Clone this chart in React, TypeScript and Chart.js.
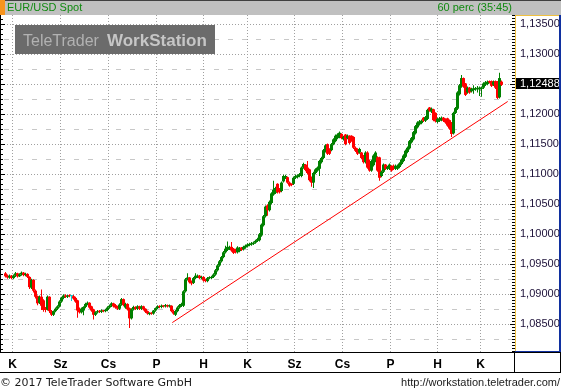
import { useEffect, useRef } from 'react';
import { Chart, registerables } from 'chart.js';

Chart.register(...registerables);

// ---------- texts ----------
const symbolLabel = 'EUR/USD Spot';
const intervalLabel = '60 perc (35:45)';
const watermarkA = 'TeleTrader';
const watermarkB = 'WorkStation';
const copyrightLabel = '© 2017 TeleTrader Software GmbH';
const urlLabel = 'http://workstation.teletrader.com/';
const lastPriceLabel = '1,12488';

// ---------- axes ----------
const dayLabels = ['K', 'Sz', 'Cs', 'P', 'H', 'K', 'Sz', 'Cs', 'P', 'H', 'K'];
const dayStarts = [3.5, 27.5, 51.5, 75.5, 99, 121, 144.5, 168.5, 192.5, 216, 237.5];
const yTicks = [1.085, 1.09, 1.095, 1.1, 1.105, 1.11, 1.115, 1.12, 1.125, 1.13, 1.135];
const yMidLines = [1.0825, 1.0875, 1.0925, 1.0975, 1.1025, 1.1075, 1.1125, 1.1175, 1.1225, 1.1275, 1.1325];
const yMin = 1.0804;
const yMax = 1.1365;
const xMin = -0.75;
const xMax = 254.75;

// ---------- hourly candles ----------
const opens = [
  1.0935, 1.0931, 1.0928, 1.0931, 1.0927, 1.0931, 1.0935, 1.0930, 1.0933, 1.0936,
  1.0932, 1.0934, 1.0929, 1.0911, 1.0924, 1.0906, 1.0897, 1.0886, 1.0896, 1.0890,
  1.0876, 1.0875, 1.0896, 1.0872, 1.0866, 1.0872, 1.0876, 1.0880, 1.0888, 1.0894,
  1.0898, 1.0896, 1.0898, 1.0897, 1.0897, 1.0894, 1.0890, 1.0876, 1.0870, 1.0873,
  1.0879, 1.0884, 1.0886, 1.0880, 1.0875, 1.0866, 1.0870, 1.0872, 1.0871, 1.0873,
  1.0872, 1.0874, 1.0878, 1.0881, 1.0885, 1.0882, 1.0880, 1.0876, 1.0883, 1.0892,
  1.0878, 1.0884, 1.0877, 1.0860, 1.0875, 1.0879, 1.0876, 1.0880, 1.0876, 1.0880,
  1.0876, 1.0872, 1.0867, 1.0869, 1.0868, 1.0873, 1.0877, 1.0880, 1.0879, 1.0881,
  1.0880, 1.0882, 1.0880, 1.0881, 1.0872, 1.0866, 1.0872, 1.0878, 1.0881, 1.0881,
  1.0905, 1.0925, 1.0928, 1.0921, 1.0919, 1.0927, 1.0929, 1.0931, 1.0927, 1.0929,
  1.0925, 1.0922, 1.0927, 1.0927, 1.0929, 1.0933, 1.0940, 1.0948, 1.0955, 1.0962,
  1.0970, 1.0974, 1.0976, 1.0979, 1.0976, 1.0975, 1.0970, 1.0972, 1.0978, 1.0975,
  1.0978, 1.0980, 1.0982, 1.0983, 1.0984, 1.0986, 1.0989, 1.0990, 1.0998, 1.1015,
  1.1030, 1.1048, 1.1040, 1.1052, 1.1066, 1.1069, 1.1084, 1.1076, 1.1072, 1.1088,
  1.1094, 1.1095, 1.1086, 1.1084, 1.1084, 1.1094, 1.1095, 1.1097, 1.1097, 1.1111,
  1.1116, 1.1111, 1.1108, 1.1095, 1.1086, 1.1102, 1.1106, 1.1109, 1.1120, 1.1127,
  1.1138, 1.1150, 1.1142, 1.1140, 1.1150, 1.1155, 1.1160, 1.1162, 1.1167, 1.1158,
  1.1166, 1.1160, 1.1164, 1.1164, 1.1162, 1.1144, 1.1142, 1.1136, 1.1136, 1.1131,
  1.1120, 1.1136, 1.1122, 1.1106, 1.1115, 1.1122, 1.1128, 1.1128, 1.1097, 1.1104,
  1.1116, 1.1109, 1.1109, 1.1114, 1.1114, 1.1109, 1.1109, 1.1112, 1.1117, 1.1122,
  1.1129, 1.1137, 1.1143, 1.1153, 1.1158, 1.1168, 1.1178, 1.1183, 1.1185, 1.1194,
  1.1189, 1.1192, 1.1211, 1.1204, 1.1208, 1.1202, 1.1187, 1.1189, 1.1190, 1.1194,
  1.1192, 1.1193, 1.1190, 1.1186, 1.1168, 1.1202, 1.1209, 1.1233, 1.1246, 1.1260,
  1.1251, 1.1236, 1.1244, 1.1238, 1.1240, 1.1241, 1.1242, 1.1241, 1.1242, 1.1244,
  1.1249, 1.1250, 1.1255, 1.1255, 1.1249, 1.1255, 1.1254, 1.1228, 1.1254,
];
const highs = [
  1.0937, 1.0933, 1.0933, 1.0932, 1.0933, 1.0937, 1.0936, 1.0935, 1.0938, 1.0937,
  1.0936, 1.0935, 1.0930, 1.0926, 1.0925, 1.0908, 1.0898, 1.0898, 1.0908, 1.0892,
  1.0879, 1.0898, 1.0897, 1.0874, 1.0873, 1.0878, 1.0882, 1.0890, 1.0896, 1.0900,
  1.0900, 1.0899, 1.0900, 1.0899, 1.0899, 1.0896, 1.0891, 1.0878, 1.0878, 1.0880,
  1.0886, 1.0888, 1.0887, 1.0881, 1.0876, 1.0872, 1.0874, 1.0874, 1.0875, 1.0874,
  1.0876, 1.0880, 1.0883, 1.0887, 1.0886, 1.0884, 1.0881, 1.0885, 1.0894, 1.0893,
  1.0886, 1.0885, 1.0878, 1.0877, 1.0881, 1.0880, 1.0882, 1.0881, 1.0882, 1.0881,
  1.0877, 1.0873, 1.0870, 1.0870, 1.0874, 1.0878, 1.0882, 1.0882, 1.0883, 1.0882,
  1.0884, 1.0883, 1.0883, 1.0882, 1.0874, 1.0874, 1.0880, 1.0884, 1.0886, 1.0907,
  1.0927, 1.0935, 1.0929, 1.0923, 1.0929, 1.0935, 1.0933, 1.0932, 1.0931, 1.0930,
  1.0926, 1.0929, 1.0930, 1.0931, 1.0935, 1.0942, 1.0950, 1.0957, 1.0964, 1.0972,
  1.0981, 1.0988, 1.0981, 1.0987, 1.0977, 1.0976, 1.0980, 1.0979, 1.0979, 1.0981,
  1.0983, 1.0985, 1.0986, 1.0987, 1.0988, 1.0991, 1.0994, 1.1002, 1.1018, 1.1032,
  1.1048, 1.1050, 1.1056, 1.1070, 1.1089, 1.1079, 1.1085, 1.1077, 1.1088, 1.1099,
  1.1099, 1.1096, 1.1088, 1.1085, 1.1096, 1.1099, 1.1100, 1.1102, 1.1113, 1.1119,
  1.1117, 1.1122, 1.1109, 1.1096, 1.1104, 1.1110, 1.1113, 1.1124, 1.1129, 1.1142,
  1.1150, 1.1151, 1.1143, 1.1152, 1.1160, 1.1166, 1.1168, 1.1171, 1.1168, 1.1164,
  1.1167, 1.1166, 1.1165, 1.1165, 1.1163, 1.1146, 1.1143, 1.1144, 1.1137, 1.1132,
  1.1138, 1.1138, 1.1124, 1.1124, 1.1133, 1.1138, 1.1130, 1.1129, 1.1106, 1.1118,
  1.1117, 1.1114, 1.1118, 1.1115, 1.1116, 1.1116, 1.1116, 1.1120, 1.1126, 1.1133,
  1.1141, 1.1146, 1.1157, 1.1162, 1.1172, 1.1182, 1.1188, 1.1190, 1.1191, 1.1195,
  1.1197, 1.1209, 1.1212, 1.1211, 1.1209, 1.1203, 1.1194, 1.1195, 1.1196, 1.1195,
  1.1193, 1.1194, 1.1191, 1.1187, 1.1204, 1.1212, 1.1238, 1.1250, 1.1265, 1.1261,
  1.1252, 1.1246, 1.1245, 1.1244, 1.1248, 1.1245, 1.1247, 1.1246, 1.1246, 1.1253,
  1.1255, 1.1256, 1.1256, 1.1256, 1.1256, 1.1256, 1.1255, 1.1269, 1.1256,
];
const lows = [
  1.0928, 1.0926, 1.0926, 1.0925, 1.0925, 1.0929, 1.0928, 1.0929, 1.0931, 1.0930,
  1.0930, 1.0927, 1.0909, 1.0909, 1.0903, 1.0893, 1.0882, 1.0884, 1.0874, 1.0871,
  1.0870, 1.0873, 1.0869, 1.0864, 1.0864, 1.0870, 1.0874, 1.0878, 1.0886, 1.0892,
  1.0894, 1.0894, 1.0895, 1.0889, 1.0891, 1.0886, 1.0861, 1.0868, 1.0868, 1.0865,
  1.0877, 1.0882, 1.0876, 1.0871, 1.0858, 1.0864, 1.0868, 1.0869, 1.0869, 1.0870,
  1.0870, 1.0872, 1.0876, 1.0879, 1.0878, 1.0876, 1.0874, 1.0874, 1.0881, 1.0880,
  1.0876, 1.0873, 1.0844, 1.0858, 1.0873, 1.0874, 1.0874, 1.0874, 1.0874, 1.0873,
  1.0869, 1.0866, 1.0865, 1.0866, 1.0866, 1.0871, 1.0875, 1.0877, 1.0877, 1.0878,
  1.0878, 1.0878, 1.0878, 1.0870, 1.0866, 1.0864, 1.0870, 1.0876, 1.0879, 1.0879,
  1.0903, 1.0923, 1.0918, 1.0915, 1.0917, 1.0925, 1.0927, 1.0925, 1.0925, 1.0921,
  1.0920, 1.0920, 1.0925, 1.0925, 1.0927, 1.0931, 1.0938, 1.0946, 1.0953, 1.0960,
  1.0968, 1.0972, 1.0974, 1.0971, 1.0967, 1.0968, 1.0968, 1.0970, 1.0972, 1.0973,
  1.0976, 1.0978, 1.0980, 1.0981, 1.0982, 1.0984, 1.0987, 1.0988, 1.0996, 1.1013,
  1.1028, 1.1031, 1.1038, 1.1050, 1.1064, 1.1067, 1.1068, 1.1068, 1.1070, 1.1086,
  1.1092, 1.1084, 1.1079, 1.1080, 1.1082, 1.1092, 1.1093, 1.1095, 1.1095, 1.1109,
  1.1105, 1.1100, 1.1088, 1.1079, 1.1077, 1.1100, 1.1104, 1.1097, 1.1118, 1.1125,
  1.1136, 1.1132, 1.1132, 1.1138, 1.1148, 1.1153, 1.1158, 1.1160, 1.1158, 1.1156,
  1.1148, 1.1158, 1.1150, 1.1154, 1.1142, 1.1137, 1.1132, 1.1134, 1.1125, 1.1118,
  1.1118, 1.1109, 1.1104, 1.1104, 1.1113, 1.1120, 1.1104, 1.1089, 1.1095, 1.1102,
  1.1107, 1.1107, 1.1107, 1.1104, 1.1107, 1.1107, 1.1107, 1.1110, 1.1115, 1.1120,
  1.1127, 1.1135, 1.1141, 1.1151, 1.1156, 1.1166, 1.1176, 1.1181, 1.1183, 1.1187,
  1.1187, 1.1190, 1.1204, 1.1202, 1.1188, 1.1186, 1.1185, 1.1187, 1.1188, 1.1187,
  1.1184, 1.1179, 1.1174, 1.1162, 1.1166, 1.1200, 1.1207, 1.1231, 1.1244, 1.1244,
  1.1230, 1.1234, 1.1234, 1.1236, 1.1234, 1.1239, 1.1236, 1.1230, 1.1229, 1.1242,
  1.1247, 1.1248, 1.1251, 1.1245, 1.1247, 1.1242, 1.1225, 1.1226, 1.1247,
];
const closes = [
  1.0930, 1.0928, 1.0931, 1.0927, 1.0931, 1.0935, 1.0930, 1.0933, 1.0936, 1.0932,
  1.0934, 1.0929, 1.0912, 1.0924, 1.0906, 1.0896, 1.0885, 1.0896, 1.0881, 1.0874,
  1.0874, 1.0896, 1.0872, 1.0866, 1.0872, 1.0876, 1.0880, 1.0888, 1.0894, 1.0898,
  1.0896, 1.0898, 1.0897, 1.0897, 1.0893, 1.0888, 1.0873, 1.0870, 1.0876, 1.0879,
  1.0884, 1.0886, 1.0878, 1.0873, 1.0866, 1.0870, 1.0872, 1.0871, 1.0873, 1.0872,
  1.0874, 1.0878, 1.0881, 1.0885, 1.0880, 1.0878, 1.0876, 1.0883, 1.0892, 1.0882,
  1.0884, 1.0875, 1.0860, 1.0875, 1.0879, 1.0876, 1.0880, 1.0876, 1.0880, 1.0875,
  1.0871, 1.0868, 1.0869, 1.0868, 1.0873, 1.0877, 1.0880, 1.0879, 1.0881, 1.0880,
  1.0882, 1.0880, 1.0881, 1.0872, 1.0868, 1.0872, 1.0878, 1.0882, 1.0884, 1.0905,
  1.0925, 1.0928, 1.0920, 1.0918, 1.0927, 1.0931, 1.0931, 1.0927, 1.0929, 1.0923,
  1.0922, 1.0927, 1.0928, 1.0929, 1.0933, 1.0940, 1.0948, 1.0955, 1.0962, 1.0970,
  1.0976, 1.0979, 1.0979, 1.0973, 1.0969, 1.0970, 1.0978, 1.0977, 1.0974, 1.0979,
  1.0981, 1.0983, 1.0984, 1.0985, 1.0986, 1.0989, 1.0992, 1.1000, 1.1016, 1.1030,
  1.1046, 1.1040, 1.1054, 1.1068, 1.1074, 1.1077, 1.1070, 1.1070, 1.1086, 1.1097,
  1.1097, 1.1086, 1.1081, 1.1082, 1.1094, 1.1097, 1.1098, 1.1100, 1.1111, 1.1117,
  1.1107, 1.1102, 1.1090, 1.1086, 1.1102, 1.1108, 1.1111, 1.1122, 1.1127, 1.1140,
  1.1148, 1.1134, 1.1134, 1.1150, 1.1158, 1.1164, 1.1166, 1.1169, 1.1160, 1.1162,
  1.1150, 1.1164, 1.1152, 1.1156, 1.1144, 1.1139, 1.1134, 1.1142, 1.1127, 1.1120,
  1.1136, 1.1111, 1.1106, 1.1122, 1.1131, 1.1136, 1.1106, 1.1094, 1.1104, 1.1116,
  1.1109, 1.1112, 1.1116, 1.1106, 1.1109, 1.1114, 1.1114, 1.1118, 1.1124, 1.1131,
  1.1139, 1.1144, 1.1155, 1.1160, 1.1170, 1.1180, 1.1186, 1.1188, 1.1189, 1.1189,
  1.1195, 1.1207, 1.1206, 1.1209, 1.1190, 1.1188, 1.1192, 1.1193, 1.1194, 1.1189,
  1.1186, 1.1181, 1.1176, 1.1167, 1.1202, 1.1210, 1.1236, 1.1248, 1.1260, 1.1246,
  1.1232, 1.1244, 1.1236, 1.1242, 1.1243, 1.1243, 1.1243, 1.1244, 1.1244, 1.1251,
  1.1253, 1.1254, 1.1253, 1.1247, 1.1254, 1.1244, 1.1227, 1.1260, 1.12488,
];

// ---------- trend line ----------
const trendStart = { x: 83.4, y: 1.0853 };
const trendEnd = { x: 251.1, y: 1.1221 };

// ---------- styles ----------
const UP = '#008000';
const DOWN = '#ff0000';
const FLAT = '#00d0d0';
const SANS = '"Liberation Sans", Arial, sans-serif';

function hLine(ctx: any, x1: number, x2: number, y: number) {
  ctx.beginPath();
  ctx.moveTo(x1, y);
  ctx.lineTo(x2, y);
  ctx.stroke();
}
function vLine(ctx: any, x: number, y1: number, y2: number) {
  ctx.beginPath();
  ctx.moveTo(x, y1);
  ctx.lineTo(x, y2);
  ctx.stroke();
}

const decorPlugin = {
  id: 'decor',
  beforeDraw(chart: any) {
    const { ctx, width, height } = chart;
    ctx.save();
    ctx.fillStyle = '#ffffff';
    ctx.fillRect(0, 0, width, height);
    ctx.restore();
  },
  beforeDatasetsDraw(chart: any) {
    const { ctx, chartArea: a, scales } = chart;
    const xs = scales.x;
    const ys = scales.y;
    ctx.save();
    ctx.lineWidth = 1;
    ctx.strokeStyle = '#c8c8c8';
    ctx.setLineDash([5, 9]);
    for (const v of yMidLines) {
      const py = Math.floor(ys.getPixelForValue(v)) + 0.5;
      if (py > a.top && py < a.bottom) hLine(ctx, a.left, a.right, py);
    }
    ctx.strokeStyle = '#a0a0a0';
    ctx.setLineDash([1, 2]);
    for (const v of yTicks) {
      const py = Math.floor(ys.getPixelForValue(v)) + 0.5;
      hLine(ctx, a.left, a.right, py);
    }
    for (const d of dayStarts) {
      const px = Math.floor(xs.getPixelForValue(d)) + 0.5;
      vLine(ctx, px, a.top, a.bottom);
    }
    ctx.setLineDash([]);
    // watermark
    ctx.fillStyle = '#6b6b6b';
    ctx.fillRect(15, 25, 200, 29);
    ctx.textBaseline = 'alphabetic';
    ctx.textAlign = 'left';
    ctx.font = '16px ' + SANS;
    ctx.fillStyle = '#b2b2b2';
    ctx.fillText(watermarkA, 23, 46);
    ctx.font = 'bold 17px ' + SANS;
    ctx.fillStyle = '#c6c6c6';
    ctx.fillText(watermarkB, 107, 46);
    ctx.restore();
  },
  afterDraw(chart: any) {
    const { ctx, chartArea: a, scales, width } = chart;
    const ys = scales.y;
    ctx.save();
    // header
    ctx.fillStyle = '#c0c0c0';
    ctx.fillRect(0, 0, width, 15);
    ctx.fillStyle = '#404040';
    ctx.fillRect(0, 0, width, 1);
    ctx.fillStyle = '#f7941d';
    ctx.fillRect(0, 0, 5, 15);
    ctx.font = '11px ' + SANS;
    ctx.fillStyle = '#118a11';
    ctx.textBaseline = 'alphabetic';
    ctx.textAlign = 'left';
    ctx.fillText(symbolLabel, 7, 11);
    ctx.textAlign = 'right';
    ctx.fillText(intervalLabel, 512, 11);

    // left ticks
    ctx.fillStyle = '#000000';
    ctx.fillRect(0, a.top, 1, a.bottom - a.top);
    for (let k = 0; k <= 70; k++) {
      const v = 1.08 + k * (0.005 / 6);
      if (v < yMin || v > yMax) continue;
      const py = Math.round(ys.getPixelForValue(v));
      const major = k % 6 === 0;
      ctx.fillRect(0, py, major ? 5 : 3, 1);
    }
    // right axis ticks
    for (let k = 0; k <= 120; k++) {
      const v = 1.08 + k * 0.0005;
      if (v < yMin || v > yMax) continue;
      const py = Math.round(ys.getPixelForValue(v));
      const major = k % 10 === 0;
      ctx.fillRect(major ? 510 : 512, py, major ? 5 : 3, 1);
    }
    // price box
    const last = closes.length - 1;
    const pp = Math.round(ys.getPixelForValue(closes[last]));
    ctx.fillStyle = '#000000';
    ctx.fillRect(516, pp - 7, 43, 11);
    ctx.fillStyle = '#ffffff';
    ctx.font = '11px ' + SANS;
    ctx.textAlign = 'left';
    ctx.textBaseline = 'middle';
    ctx.fillText(lastPriceLabel, 520, pp - 1.5);

    // y panel borders
    ctx.fillStyle = '#f0c040';
    ctx.fillRect(515, a.top, 1, a.bottom - a.top);
    ctx.fillRect(515, a.top, 44, 1);
    ctx.fillStyle = '#1030a0';
    ctx.fillRect(559, a.top, 2, a.bottom - a.top);
    ctx.fillRect(515, a.bottom - 1, 46, 1);

    // x band lines
    ctx.fillStyle = '#000000';
    ctx.fillRect(0, a.bottom, width, 1);
    ctx.fillRect(0, 372, width, 1);
    ctx.fillRect(514, a.bottom, 1, 372 - a.bottom);
    ctx.fillRect(560, a.bottom, 1, 372 - a.bottom);

    // footer
    ctx.fillStyle = '#1a1a1a';
    ctx.textBaseline = 'alphabetic';
    ctx.textAlign = 'left';
    ctx.font = '11px "DejaVu Sans", sans-serif';
    ctx.fillText(copyrightLabel, 0, 386);
    ctx.textAlign = 'right';
    ctx.font = '11px ' + SANS;
    ctx.fillText(urlLabel, 560, 386);
    ctx.restore();
  },
};

export default function App() {
  const ref = useRef<HTMLCanvasElement | null>(null);

  useEffect(() => {
    const canvas = ref.current;
    if (!canvas) return;
    const n = Math.min(opens.length, highs.length, lows.length, closes.length);
    const bodyData: any[] = [];
    const wickData: any[] = [];
    const colors: string[] = [];
    for (let i = 0; i < n; i++) {
      bodyData.push({ x: i, y: [opens[i], closes[i]] });
      wickData.push({ x: i, y: [lows[i], highs[i]] });
      colors.push(closes[i] > opens[i] ? UP : closes[i] < opens[i] ? DOWN : FLAT);
    }

    const chart = new Chart(canvas, {
      type: 'bar',
      data: {
        datasets: [
          {
            type: 'line',
            data: [trendStart, trendEnd],
            borderColor: DOWN,
            borderWidth: 1,
            pointRadius: 0,
            fill: false,
            order: 0,
          } as any,
          {
            type: 'bar',
            data: bodyData,
            backgroundColor: colors,
            barThickness: 3,
            minBarLength: 1,
            inflateAmount: 0,
            borderWidth: 0,
            stack: 'ohlc',
            order: 1,
          } as any,
          {
            type: 'bar',
            data: wickData,
            backgroundColor: colors,
            barThickness: 1,
            inflateAmount: 0,
            borderWidth: 0,
            stack: 'ohlc',
            order: 2,
          } as any,
        ],
      },
      options: {
        animation: false,
        responsive: false,
        devicePixelRatio: 1,
        layout: { padding: { left: 4, top: 15, right: 0, bottom: 18 } },
        plugins: { legend: { display: false }, tooltip: { enabled: false } },
        scales: {
          x: {
            type: 'linear',
            position: 'bottom',
            min: xMin,
            max: xMax,
            offset: false,
            grid: { display: false, drawTicks: false },
            border: { display: false },
            afterBuildTicks: (s: any) => {
              s.ticks = dayStarts.map((v) => ({ value: v }));
            },
            afterFit: (s: any) => {
              s.height = 20;
            },
            ticks: {
              autoSkip: false,
              maxRotation: 0,
              padding: 5,
              color: '#000000',
              font: { family: SANS, size: 12, weight: 'bold' },
              callback: (_v: any, i: number) => dayLabels[i],
            },
          },
          y: {
            type: 'linear',
            position: 'right',
            min: yMin,
            max: yMax,
            stacked: false,
            grid: { display: false, drawTicks: false },
            border: { display: false },
            afterBuildTicks: (s: any) => {
              s.ticks = yTicks.map((v) => ({ value: v }));
            },
            afterFit: (s: any) => {
              s.width = 46;
            },
            ticks: {
              padding: 5,
              color: '#1c1038',
              font: { family: SANS, size: 11 },
              callback: (v: any) => Number(v).toFixed(5).replace('.', ','),
            },
          },
        },
      } as any,
      plugins: [decorPlugin],
    });
    return () => chart.destroy();
  }, []);

  return (
    <div style={{ position: 'absolute', left: 0, top: 0, width: 561, height: 390 }}>
      <canvas ref={ref} width={561} height={390} style={{ display: 'block' }} />
    </div>
  );
}
